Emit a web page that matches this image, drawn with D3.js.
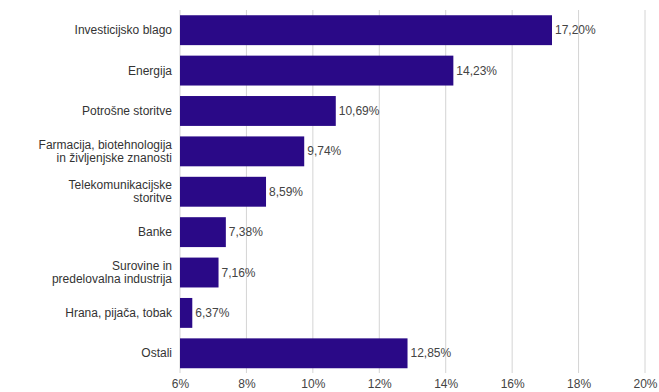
<!DOCTYPE html>
<html><head><meta charset="utf-8">
<script src="https://cdn.jsdelivr.net/npm/d3@7"></script>
<style>body{margin:0;background:#fff}svg{display:block;font-family:"Liberation Sans",Arial,sans-serif}</style>
</head><body><svg id="c" width="659" height="392"></svg>
<script>
const categories = [
  ["Investicijsko blago"],
  ["Energija"],
  ["Potrošne storitve"],
  ["Farmacija, biotehnologija", "in življenjske znanosti"],
  ["Telekomunikacijske", "storitve"],
  ["Banke"],
  ["Surovine in", "predelovalna industrija"],
  ["Hrana, pijača, tobak"],
  ["Ostali"]
];
const values = [17.20, 14.23, 10.69, 9.74, 8.59, 7.38, 7.16, 6.37, 12.85];
const valueLabels = ["17,20%", "14,23%", "10,69%", "9,74%", "8,59%", "7,38%", "7,16%", "6,37%", "12,85%"];
const ticks = [6, 8, 10, 12, 14, 16, 18, 20];

const svg = d3.select("#c");
const x = d3.scaleLinear().domain([6, 20]).range([180, 645]);
const y = d3.scaleBand().domain(d3.range(categories.length)).range([10, 373.5]).paddingInner(0.26).paddingOuter(0.13);

// gridlines
svg.append("g").selectAll("line").data(ticks).join("line")
  .attr("x1", d => x(d)).attr("x2", d => x(d))
  .attr("y1", 10).attr("y2", 373)
  .attr("stroke", "#d4d4d4").attr("stroke-width", 1);

// bars
svg.append("g").selectAll("rect").data(values).join("rect")
  .attr("x", x(6)).attr("y", (d, i) => y(i))
  .attr("width", d => x(d) - x(6)).attr("height", y.bandwidth())
  .attr("fill", "#2a0987");

// value labels
svg.append("g").selectAll("text").data(values).join("text")
  .attr("x", d => x(d) + 3).attr("y", (d, i) => y(i) + y.bandwidth() / 2 + 4)
  .attr("font-size", 12).attr("fill", "#444")
  .text((d, i) => valueLabels[i]);

// category labels
const cl = svg.append("g").selectAll("text").data(categories).join("text")
  .attr("text-anchor", "end").attr("font-size", 12).attr("fill", "#333");
cl.each(function(lines, i) {
  const t = d3.select(this);
  const cy = y(i) + y.bandwidth() / 2;
  const n = lines.length;
  lines.forEach((ln, k) => {
    t.append("tspan").attr("x", 172)
      .attr("y", cy + 4 + (k - (n - 1) / 2) * 13)
      .text(ln);
  });
});

// x axis tick labels
const ax = svg.append("g").attr("transform", "translate(0,376)")
  .call(d3.axisBottom(x).tickValues(ticks).tickFormat(d => d + "%").tickSize(0).tickPadding(3));
ax.select(".domain").remove();
ax.selectAll("text").attr("font-size", 12).attr("fill", "#444").attr("font-family", "Liberation Sans, Arial, sans-serif");
</script></body></html>
